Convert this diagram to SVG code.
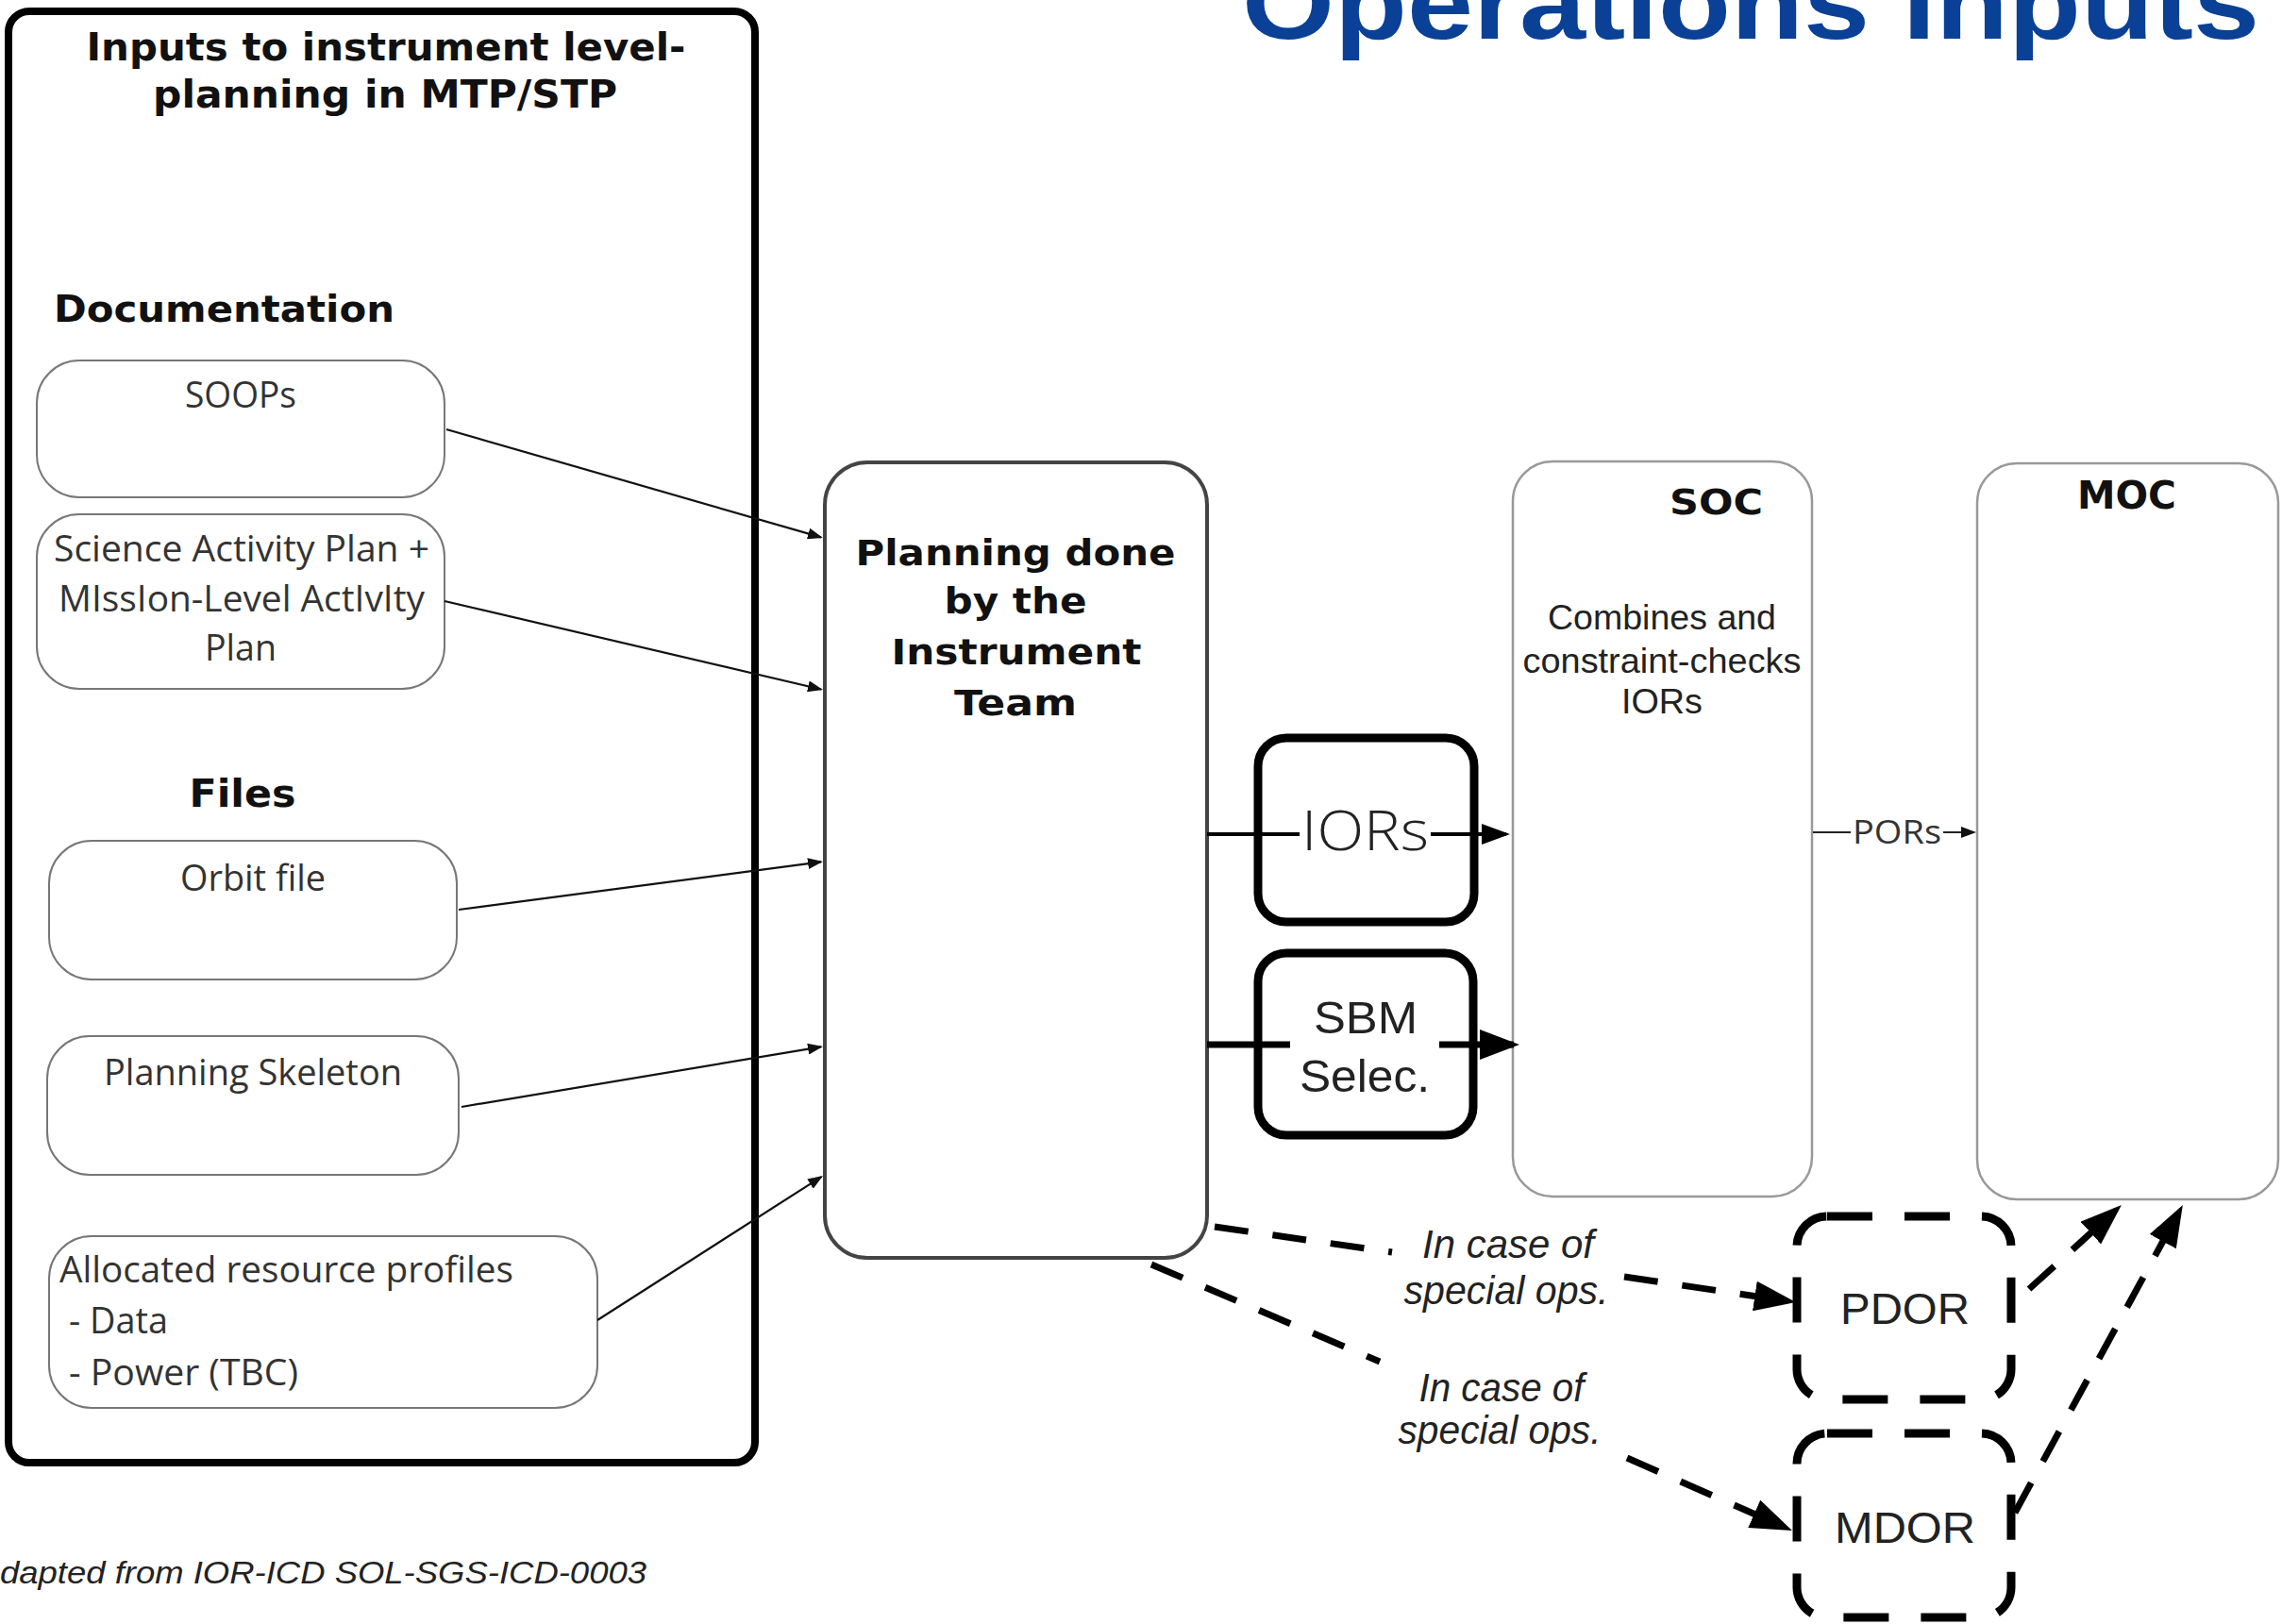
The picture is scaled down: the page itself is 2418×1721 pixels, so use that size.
<svg xmlns="http://www.w3.org/2000/svg" width="2418" height="1721" viewBox="0 0 2418 1721">
<style>
.hb{font-family:"DejaVu Sans","Liberation Sans",sans-serif;font-weight:bold;fill:#111}
.cal{font-family:"Open Sans","Noto Sans",sans-serif;fill:#333;font-size:38px}
.ar{font-family:"Liberation Sans",Arial,sans-serif;fill:#222}
.it{font-family:"Liberation Sans",Arial,sans-serif;font-style:italic;fill:#222;font-size:42px}
.inbox{fill:#fff;stroke:#777;stroke-width:2}
.cbox{fill:#fff;stroke:#999;stroke-width:2.5}
.tbox{fill:#fff;stroke:#000;stroke-width:9}
.dbox{fill:#fff;stroke:#000;stroke-width:9;stroke-dasharray:48 34}
.thin{stroke:#111;stroke-width:2.2;fill:none}
.dash{stroke:#000;stroke-width:7;fill:none;stroke-dasharray:36 26}
</style>
<defs>
<marker id="arrS" viewBox="0 0 16 12" refX="14" refY="6" markerWidth="16" markerHeight="12" markerUnits="userSpaceOnUse" orient="auto"><path d="M0,0 L16,6 L0,12 z" fill="#111"/></marker>
<marker id="arrM" viewBox="0 0 30 22" refX="26" refY="11" markerWidth="30" markerHeight="22" markerUnits="userSpaceOnUse" orient="auto"><path d="M0,0 L30,11 L0,22 z" fill="#000"/></marker>
<marker id="arrL" viewBox="0 0 42 32" refX="36" refY="16" markerWidth="42" markerHeight="32" markerUnits="userSpaceOnUse" orient="auto"><path d="M0,0 L42,16 L0,32 z" fill="#000"/></marker>
<marker id="arrD" viewBox="0 0 44 32" refX="36" refY="16" markerWidth="44" markerHeight="32" markerUnits="userSpaceOnUse" orient="auto"><path d="M0,0 L44,16 L0,32 z" fill="#000"/></marker>
</defs>
<rect width="2418" height="1721" fill="#fff"/>

<text x="1316" y="41" font-family="Liberation Sans, Arial, sans-serif" font-weight="bold" font-size="110" fill="#0a4096" textLength="1078" lengthAdjust="spacingAndGlyphs">Operations Inputs</text>

<g id="inputs-container">
<rect x="9" y="12" width="791" height="1538" rx="22" fill="none" stroke="#000" stroke-width="8"/>
<text class="hb" x="409" y="64" font-size="41" text-anchor="middle" textLength="635" lengthAdjust="spacingAndGlyphs">Inputs to instrument level-</text>
<text class="hb" x="408" y="114" font-size="41" text-anchor="middle" textLength="492" lengthAdjust="spacingAndGlyphs">planning in MTP/STP</text>
<text class="hb" x="57" y="341" font-size="39" textLength="361" lengthAdjust="spacingAndGlyphs">Documentation</text>
<text class="hb" x="257" y="855" font-size="40" text-anchor="middle" textLength="113" lengthAdjust="spacingAndGlyphs">Files</text>
</g>

<g id="soops">
<rect class="inbox" x="39" y="382" width="432" height="145" rx="45"/>
<text class="cal" x="255" y="432" text-anchor="middle" textLength="118" lengthAdjust="spacingAndGlyphs">SOOPs</text>
</g>
<g id="science-plan">
<rect class="inbox" x="39" y="545" width="432" height="185" rx="45"/>
<text class="cal" x="256" y="595" text-anchor="middle" textLength="398" lengthAdjust="spacingAndGlyphs">Science Activity Plan +</text>
<text class="cal" x="256" y="648" text-anchor="middle" textLength="388" lengthAdjust="spacingAndGlyphs">MIssIon-Level ActIvIty</text>
<text class="cal" x="255" y="700" text-anchor="middle" textLength="76" lengthAdjust="spacingAndGlyphs">Plan</text>
</g>
<g id="orbit-file">
<rect class="inbox" x="52" y="891" width="432" height="147" rx="45"/>
<text class="cal" x="268" y="944" text-anchor="middle" textLength="154" lengthAdjust="spacingAndGlyphs">Orbit file</text>
</g>
<g id="planning-skeleton">
<rect class="inbox" x="50" y="1098" width="436" height="147" rx="45"/>
<text class="cal" x="268" y="1150" text-anchor="middle" textLength="316" lengthAdjust="spacingAndGlyphs">Planning Skeleton</text>
</g>
<g id="resource-profiles">
<rect class="inbox" x="52" y="1310" width="581" height="182" rx="45"/>
<text class="cal" x="63" y="1359" textLength="481" lengthAdjust="spacingAndGlyphs">Allocated resource profiles</text>
<text class="cal" x="73" y="1413" textLength="105" lengthAdjust="spacingAndGlyphs">- Data</text>
<text class="cal" x="73" y="1468" textLength="243" lengthAdjust="spacingAndGlyphs">- Power (TBC)</text>
</g>

<g id="planning-team">
<rect x="874" y="490" width="405" height="843" rx="45" fill="#fff" stroke="#444" stroke-width="4"/>
<text class="hb" x="1076" y="599" font-size="37" text-anchor="middle" textLength="339" lengthAdjust="spacingAndGlyphs">Planning done</text>
<text class="hb" x="1076" y="650" font-size="37" text-anchor="middle" textLength="151" lengthAdjust="spacingAndGlyphs">by the</text>
<text class="hb" x="1077" y="704" font-size="37" text-anchor="middle" textLength="265" lengthAdjust="spacingAndGlyphs">Instrument</text>
<text class="hb" x="1076" y="758" font-size="37" text-anchor="middle" textLength="130" lengthAdjust="spacingAndGlyphs">Team</text>
</g>

<g id="iors">
<rect class="tbox" x="1333" y="782" width="229" height="195" rx="30"/>
</g>
<g id="sbm">
<rect class="tbox" x="1333" y="1010" width="228" height="193" rx="30"/>
<text class="ar" x="1447" y="1095" font-size="49" text-anchor="middle" textLength="110" lengthAdjust="spacingAndGlyphs">SBM</text>
<text class="ar" x="1446" y="1157" font-size="49" text-anchor="middle" textLength="138" lengthAdjust="spacingAndGlyphs">Selec.</text>
</g>

<g id="soc">
<rect class="cbox" x="1603" y="489" width="317" height="779" rx="42"/>
<text class="hb" x="1769" y="545" font-size="38" textLength="99" lengthAdjust="spacingAndGlyphs">SOC</text>
<text class="ar" x="1761" y="667" font-size="37" fill="#333" text-anchor="middle" textLength="242" lengthAdjust="spacingAndGlyphs">Combines and</text>
<text class="ar" x="1761" y="713" font-size="37" fill="#333" text-anchor="middle" textLength="295" lengthAdjust="spacingAndGlyphs">constraint-checks</text>
<text class="ar" x="1761" y="756" font-size="37" fill="#333" text-anchor="middle" textLength="86" lengthAdjust="spacingAndGlyphs">IORs</text>
</g>
<g id="moc">
<rect class="cbox" x="2095" y="491" width="319" height="780" rx="42"/>
<text class="hb" x="2201" y="539" font-size="40" textLength="105" lengthAdjust="spacingAndGlyphs">MOC</text>
</g>

<g id="pdor">
<rect class="dbox" x="1904" y="1289" width="227" height="194" rx="32"/>
<text class="ar" x="1950" y="1403" font-size="47" textLength="137" lengthAdjust="spacingAndGlyphs">PDOR</text>
</g>
<g id="mdor">
<rect class="dbox" x="1904" y="1519" width="227" height="195" rx="32"/>
<text class="ar" x="1944" y="1635" font-size="47" textLength="149" lengthAdjust="spacingAndGlyphs">MDOR</text>
</g>

<g id="connectors">
<line class="thin" x1="473" y1="455" x2="870" y2="569.4" marker-end="url(#arrS)"/>
<line class="thin" x1="471" y1="637" x2="870" y2="730.5" marker-end="url(#arrS)"/>
<line class="thin" x1="486" y1="964" x2="870" y2="913.3" marker-end="url(#arrS)"/>
<line class="thin" x1="489" y1="1173" x2="870" y2="1109.3" marker-end="url(#arrS)"/>
<line class="thin" x1="633" y1="1399" x2="870.3" y2="1247.1" marker-end="url(#arrS)"/>

<line x1="1279" y1="884" x2="1377" y2="884" stroke="#000" stroke-width="4"/>
<line x1="1516" y1="884" x2="1596" y2="884" stroke="#000" stroke-width="4" marker-end="url(#arrM)"/>
<text x="1379" y="901" font-family="Open Sans, Noto Sans, sans-serif" font-weight="300" font-size="58" fill="#222" textLength="135" lengthAdjust="spacingAndGlyphs">IORs</text>

<line x1="1279" y1="1107" x2="1367" y2="1107" stroke="#000" stroke-width="7"/>
<line x1="1525" y1="1107" x2="1604" y2="1107" stroke="#000" stroke-width="7" marker-end="url(#arrL)"/>

<line x1="1921" y1="882" x2="1961" y2="882" stroke="#222" stroke-width="2"/>
<text x="1963" y="894" font-family="Open Sans, Noto Sans, sans-serif" font-size="34" fill="#333" textLength="94" lengthAdjust="spacingAndGlyphs">PORs</text>
<line x1="2059" y1="882" x2="2092" y2="882" stroke="#222" stroke-width="2" marker-end="url(#arrS)"/>

<line class="dash" x1="1287" y1="1300" x2="1475" y2="1327"/>
<line class="dash" x1="1721" y1="1353" x2="1895" y2="1378.8" marker-end="url(#arrD)"/>
<text class="it" x="1598" y="1333" text-anchor="middle" textLength="182" lengthAdjust="spacingAndGlyphs">In case of</text>
<text class="it" x="1596" y="1382" text-anchor="middle" textLength="217" lengthAdjust="spacingAndGlyphs">special ops.</text>

<line class="dash" x1="1220" y1="1340" x2="1462" y2="1443"/>
<line class="dash" x1="1724" y1="1545" x2="1891.7" y2="1618.8" marker-end="url(#arrD)"/>
<text class="it" x="1591" y="1485" text-anchor="middle" textLength="175" lengthAdjust="spacingAndGlyphs">In case of</text>
<text class="it" x="1589" y="1530" text-anchor="middle" textLength="215" lengthAdjust="spacingAndGlyphs">special ops.</text>

<line class="dash" x1="2150" y1="1366" x2="2242" y2="1282.4" stroke-width="6" stroke-dasharray="34 28" marker-end="url(#arrD)"/>
<line class="dash" x1="2135" y1="1603" x2="2309" y2="1284" stroke-width="6" stroke-dasharray="34 28" marker-end="url(#arrD)"/>
</g>

<text x="0" y="1678" font-family="Liberation Sans, Arial, sans-serif" font-style="italic" font-size="33" fill="#222" textLength="685" lengthAdjust="spacingAndGlyphs">dapted from IOR-ICD SOL-SGS-ICD-0003</text>
</svg>
